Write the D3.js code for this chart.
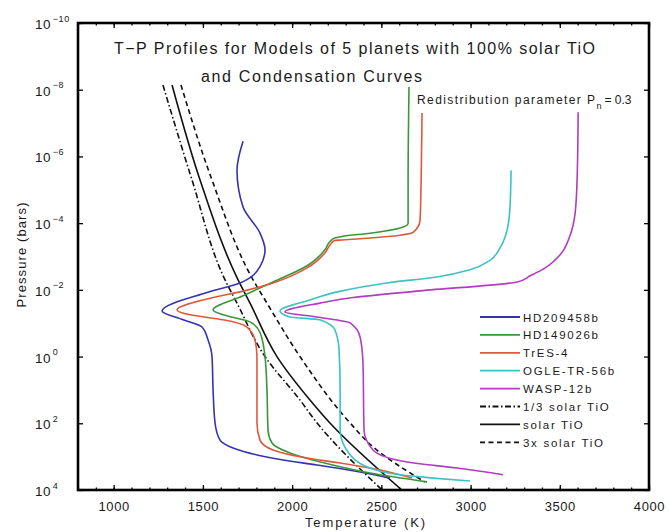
<!DOCTYPE html>
<html>
<head>
<meta charset="utf-8">
<script src="https://cdn.jsdelivr.net/npm/d3@7"></script>
<style>
  body { margin: 0; background: #fff; }
  svg { display: block; }
  text { font-family: "Liberation Sans", Arial, sans-serif; fill: #1a1a1a; }
</style>
</head>
<body>
<svg id="chart" width="669" height="532"></svg>
<script>
// ---- data -------------------------------------------------------------
// Temperature (K) and pressure (bars) along each model profile, top of atmosphere downward
const tHD209458b = [1725, 1691, 1725, 1820, 1848, 1820, 1708, 1523, 1271, 1389, 1495, 1529, 1551, 1557, 1568, 1596, 1669, 1803, 1949, 2140, 2381, 2549];
const pHD209458b = [3.5e-7, 2.6e-6, 3.3e-5, 2.0e-4, 6.3e-4, 2.0e-3, 6.2e-3, 1.2e-2, 4.3e-2, 7.9e-2, 0.13, 0.32, 1.0, 10, 98, 320, 550, 890, 1260, 1780, 2900, 4400];

const tHD149026b = [2655, 2650, 2650, 2605, 2437, 2280, 2238, 2212, 2184, 2084, 1893, 1725, 1557, 1613, 1764, 1820, 1848, 1859, 1865, 1887, 1988, 2269, 2493, 2756];
const pHD149026b = [8.3e-9, 5.1e-6, 1.0e-4, 1.4e-4, 2.0e-4, 2.5e-4, 2.8e-4, 3.6e-4, 6.3e-4, 1.9e-3, 5.8e-3, 1.5e-2, 4.0e-2, 5.6e-2, 9.1e-2, 0.19, 1.0, 10, 160, 390, 780, 2000, 3500, 5700];

const tTrES4 = [2728, 2723, 2717, 2678, 2605, 2437, 2280, 2238, 2212, 2184, 2084, 1893, 1708, 1557, 1355, 1428, 1613, 1747, 1792, 1803, 1803, 1820, 1893, 2084, 2269, 2493, 2672];
const pTrES4 = [5.0e-8, 5.1e-6, 8.1e-5, 1.9e-4, 2.3e-4, 2.8e-4, 3.2e-4, 3.3e-4, 4.6e-4, 7.8e-4, 2.2e-3, 6.2e-3, 1.15e-2, 1.7e-2, 4.0e-2, 5.6e-2, 7.9e-2, 0.13, 0.32, 1.0, 98, 320, 630, 1100, 1550, 2500, 4400];

const tOGLETR56b = [3227, 3221, 3205, 3165, 3109, 2997, 2812, 2532, 2252, 2100, 1932, 1988, 2156, 2240, 2263, 2269, 2269, 2325, 2510, 2790, 2997];
const pOGLETR56b = [2.6e-6, 3.3e-5, 1.6e-4, 5.5e-4, 1.3e-3, 2.5e-3, 4.1e-3, 6.2e-3, 1.15e-2, 2.0e-2, 4.3e-2, 6.5e-2, 7.9e-2, 0.16, 0.63, 10, 160, 890, 2900, 4400, 5400];

const tWASP12b = [3603, 3597, 3586, 3558, 3502, 3418, 3334, 3261, 2717, 2341, 2156, 1960, 2140, 2325, 2381, 2397, 2403, 2453, 2644, 2924, 3182];
const pWASP12b = [4.7e-8, 5.1e-6, 5.0e-5, 2.3e-4, 8.9e-4, 2.2e-3, 3.8e-3, 5.8e-3, 1.07e-2, 1.7e-2, 2.5e-2, 4.6e-2, 6.5e-2, 9.8e-2, 0.26, 1.55, 160, 630, 1450, 2200, 3500];

// Condensation curves for TiO at three abundances
const tCondThird = [1276, 1439, 1624, 1691, 1848, 2044, 2140, 2504];
const pCondThird = [7.2e-9, 5.1e-6, 5.0e-3, 2.5e-2, 1.0, 20, 98, 1e4];
const tCondSolar = [1327, 1484, 1697, 1764, 1915, 2100, 2212, 2615];
const pCondSolar = [7.2e-9, 5.1e-6, 5.0e-3, 2.5e-2, 1.0, 20, 98, 1e4];
const tCondTriple = [1377, 1551, 1781, 1859, 2044, 2325, 2453, 2745];
const pCondTriple = [7.2e-9, 5.1e-6, 5.0e-3, 2.5e-2, 1.0, 98, 510, 5800];

// Axis ticks
const xMajorTicks = [1000, 1500, 2000, 2500, 3000, 3500, 4000];
const xMinorTicks = d3.range(800, 4001, 100);
const yTickExponents = [-10, -8, -6, -4, -2, 0, 2, 4];

// Legend entries
const legendLabels = ["HD209458b", "HD149026b", "TrES-4", "OGLE-TR-56b", "WASP-12b", "1/3 solar TiO", "solar TiO", "3x solar TiO"];

// ---- chart ------------------------------------------------------------
const svg = d3.select("#chart");
const plot = { left: 78, right: 649, top: 23, bottom: 490 };

const x = d3.scaleLinear().domain([800, 4000]).range([plot.left, plot.right]);
const y = d3.scaleLog().domain([1e-10, 1e4]).range([plot.top, plot.bottom]);

const zip = (t, p) => t.map((v, i) => [v, p[i]]);

const profiles = [
  { name: legendLabels[0], color: "#3434ad", pts: zip(tHD209458b, pHD209458b) },
  { name: legendLabels[1], color: "#3a963a", pts: zip(tHD149026b, pHD149026b) },
  { name: legendLabels[2], color: "#e0583c", pts: zip(tTrES4, pTrES4) },
  { name: legendLabels[3], color: "#3cc2c2", pts: zip(tOGLETR56b, pOGLETR56b) },
  { name: legendLabels[4], color: "#b03cc0", pts: zip(tWASP12b, pWASP12b) }
];
const condensation = [
  { name: legendLabels[5], dash: "6,2.5,1.5,2.5", pts: zip(tCondThird, pCondThird) },
  { name: legendLabels[6], dash: null, pts: zip(tCondSolar, pCondSolar) },
  { name: legendLabels[7], dash: "5,3.5", pts: zip(tCondTriple, pCondTriple) }
];

svg.append("clipPath").attr("id", "plotClip")
  .append("rect")
  .attr("x", plot.left).attr("y", plot.top)
  .attr("width", plot.right - plot.left).attr("height", plot.bottom - plot.top);

const line = d3.line()
  .x(d => x(d[0]))
  .y(d => y(d[1]))
  .curve(d3.curveMonotoneY);

const curves = svg.append("g").attr("clip-path", "url(#plotClip)");

curves.selectAll("path.cond")
  .data(condensation)
  .join("path")
  .attr("class", "cond")
  .attr("d", d => line(d.pts))
  .attr("fill", "none")
  .attr("stroke", "#111")
  .attr("stroke-width", 1.6)
  .attr("stroke-dasharray", d => d.dash);

curves.selectAll("path.profile")
  .data(profiles)
  .join("path")
  .attr("class", "profile")
  .attr("d", d => line(d.pts))
  .attr("fill", "none")
  .attr("stroke", d => d.color)
  .attr("stroke-width", 1.6);

// ---- axes ------------------------------------------------------------
function styleAxis(g) {
  g.select(".domain").remove();
  g.selectAll(".tick line").attr("stroke", "#000").attr("stroke-width", 1.3);
}

svg.append("g")
  .attr("transform", `translate(0,${plot.bottom})`)
  .call(d3.axisBottom(x).tickValues(xMinorTicks).tickSize(-2.5).tickFormat(""))
  .call(styleAxis);
svg.append("g")
  .attr("transform", `translate(0,${plot.top})`)
  .call(d3.axisTop(x).tickValues(xMinorTicks).tickSize(-2.5).tickFormat(""))
  .call(styleAxis);

const xAxis = svg.append("g")
  .attr("transform", `translate(0,${plot.bottom})`)
  .call(d3.axisBottom(x).tickValues(xMajorTicks).tickSize(-5).tickPadding(12).tickFormat(d3.format("d")))
  .call(styleAxis);
xAxis.selectAll(".tick text")
  .attr("font-size", 13)
  .attr("letter-spacing", 0.6)
  .attr("fill", "#222")
  .attr("font-family", "Liberation Sans, Arial, sans-serif");

svg.append("g")
  .attr("transform", `translate(0,${plot.top})`)
  .call(d3.axisTop(x).tickValues(xMajorTicks).tickSize(-5).tickFormat(""))
  .call(styleAxis);

const yAxis = svg.append("g")
  .attr("transform", `translate(${plot.left},0)`)
  .call(d3.axisLeft(y).tickValues(yTickExponents.map(e => Math.pow(10, e))).tickSize(-5).tickFormat(""))
  .call(styleAxis);
svg.append("g")
  .attr("transform", `translate(${plot.right},0)`)
  .call(d3.axisRight(y).tickValues(yTickExponents.map(e => Math.pow(10, e))).tickSize(-5).tickFormat(""))
  .call(styleAxis);

// Power-of-ten labels with superscript exponents
yAxis.selectAll(".tick").each(function (d) {
  const e = Math.round(Math.log10(d));
  const t = d3.select(this).append("text")
    .attr("x", 35 - plot.left)
    .attr("y", 5.5)
    .attr("text-anchor", "start")
    .attr("fill", "#222")
    .attr("font-size", 13.5)
    .attr("letter-spacing", 0.6);
  t.append("tspan").text("10");
  t.append("tspan")
    .attr("dx", 1.5)
    .attr("dy", -7.5)
    .attr("font-size", 9)
    .text(e < 0 ? "\u2212" + Math.abs(e) : String(e));
});

// Frame
svg.append("rect")
  .attr("x", plot.left).attr("y", plot.top)
  .attr("width", plot.right - plot.left).attr("height", plot.bottom - plot.top)
  .attr("fill", "none")
  .attr("stroke", "#000")
  .attr("stroke-width", 2.6);

// Axis titles
svg.append("text")
  .attr("x", 365).attr("y", 527)
  .attr("text-anchor", "middle")
  .attr("font-size", 13)
  .attr("textLength", 120).attr("lengthAdjust", "spacing")
  .text("Temperature (K)");

svg.append("text")
  .attr("transform", "translate(26,255) rotate(-90)")
  .attr("text-anchor", "middle")
  .attr("font-size", 13)
  .attr("textLength", 105).attr("lengthAdjust", "spacing")
  .text("Pressure (bars)");

// Title
svg.append("text")
  .attr("x", 114).attr("y", 54)
  .attr("font-size", 16)
  .attr("textLength", 481).attr("lengthAdjust", "spacing")
  .text("T\u2212P Profiles for Models of 5 planets with 100% solar TiO");
svg.append("text")
  .attr("x", 201).attr("y", 82)
  .attr("font-size", 16)
  .attr("textLength", 221).attr("lengthAdjust", "spacing")
  .text("and Condensation Curves");

// Redistribution note
const note = svg.append("text")
  .attr("x", 417).attr("y", 104)
  .attr("font-size", 12);
note.append("tspan").attr("textLength", 178).attr("lengthAdjust", "spacing").text("Redistribution parameter P");
note.append("tspan").attr("dy", 5).attr("font-size", 9).text("n");
note.append("tspan").attr("dy", -5).attr("dx", 3).text("= 0.3");

// ---- legend ------------------------------------------------------------
const legendItems = [
  ...profiles.map(d => ({ name: d.name, color: d.color, dash: null })),
  ...condensation.map(d => ({ name: d.name, color: "#111", dash: d.dash }))
];
const legend = svg.append("g").attr("transform", "translate(480,317)");
const rows = legend.selectAll("g")
  .data(legendItems)
  .join("g")
  .attr("transform", (d, i) => `translate(0,${i * 17.9})`);
rows.append("line")
  .attr("x1", 0).attr("x2", 40)
  .attr("stroke", d => d.color)
  .attr("stroke-width", 1.8)
  .attr("stroke-dasharray", d => d.dash);
rows.append("text")
  .attr("x", 43).attr("y", 4.5)
  .attr("font-size", 11.5)
  .attr("letter-spacing", 1.7)
  .text(d => d.name);
</script>
</body>
</html>
